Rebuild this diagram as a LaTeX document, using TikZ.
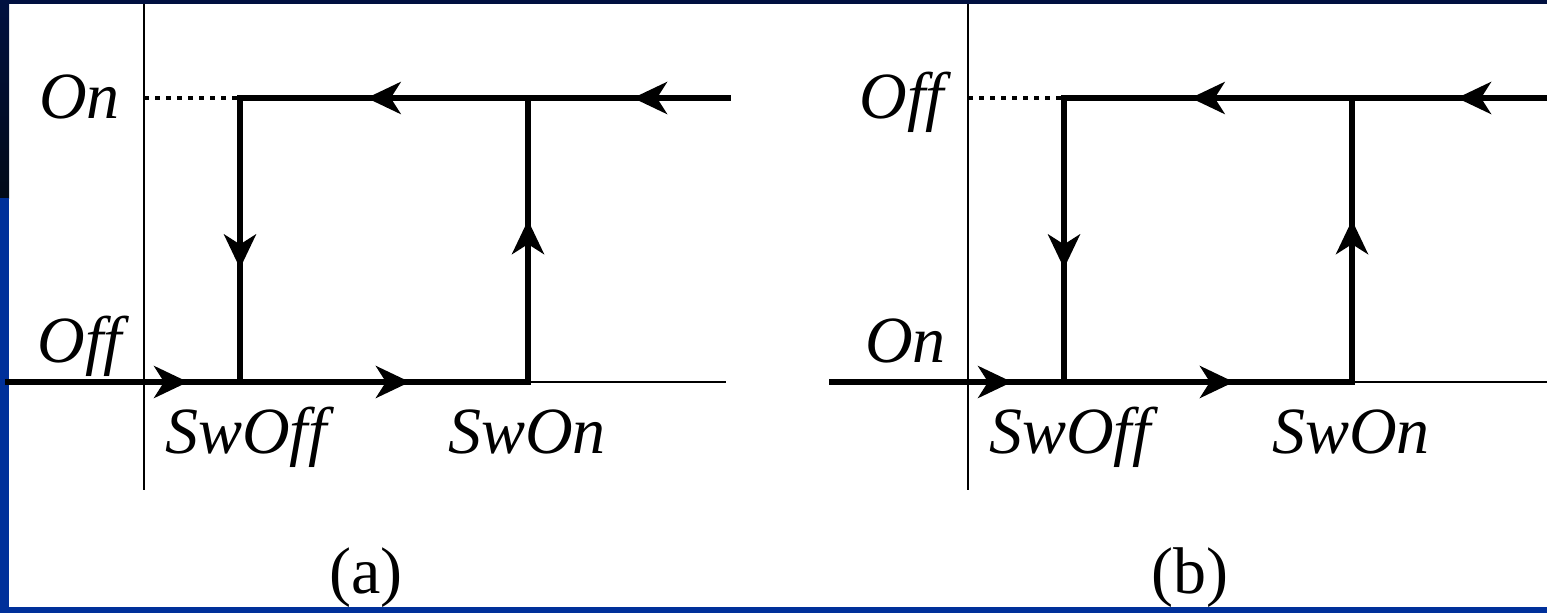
\documentclass[tikz,border=0pt]{standalone}
\usepackage{fontspec}
\setmainfont{Liberation Serif}
\newfontfamily\tiempos{Liberation Serif}
\usetikzlibrary{
    arrows.meta,
    decorations.markings
}
\definecolor{azulosc}{HTML}{001040}
\definecolor{negroazul}{HTML}{020A18}
\definecolor{azul}{HTML}{00309A}
\tikzset{
    >={Stealth[length=34pt,width=32pt,inset=10pt]},
    grueso/.style={
        line width=5.5pt,
        line cap=rect
    },
    eje/.style={line width=2.6pt},
    punteado/.style={
        line width=4pt,
        dash pattern=on 5pt off 6pt
    },
    flecha/.style={
        grueso,
        postaction={decorate},
        decoration={markings, mark=at position #1 with {\arrow{>}}}
    },
    etiq/.style={
        font=\tiempos\fontsize{66}{78}\selectfont\itshape,
        inner sep=0pt
    },
    pie/.style={
        font=\tiempos\fontsize{66}{78}\selectfont,
        inner sep=0pt
    }
}

\begin{document}
\begin{tikzpicture}[
    x=1pt,
    y=-1pt
]

    % Marco
    \useasboundingbox (0,0) rectangle (1547,613);
    \fill[azulosc] (0,0) rectangle (1547,4);
    \shade[top color=azulosc, bottom color=negroazul] (0,0) rectangle (9,198);
    \fill[azul] (0,198) rectangle (9,613);
    \fill[azul] (0,607) rectangle (1547,613);

    % Paneles (a) y (b)
    \foreach \p/\dx/\arriba/\abajo in {a/0/On/Off, b/824/Off/On}{
        \begin{scope}[xshift=\dx]

            % Puntos
            \coordinate (\p Ej0) at (144,4);
            \coordinate (\p Ej1) at (144,490);
            \coordinate (\p Y)   at (144,98);
            \coordinate (\p T1)  at (240,98);
            \coordinate (\p T2)  at (528,98);
            \coordinate (\p TE)  at (728,98);
            \coordinate (\p In)  at (8,382);
            \coordinate (\p O)   at (144,382);
            \coordinate (\p B1)  at (240,382);
            \coordinate (\p B2)  at (528,382);
            \coordinate (\p BE)  at (726,382);

            % Ejes
            \draw[eje] (\p Ej0) -- (\p Ej1);
            \draw[eje] (\p O) -- (\p BE);
            \draw[punteado] (\p Y) -- (\p T1);

            % Ciclo
            \draw[flecha=0.475] (\p TE) -- (\p T2);
            \draw[flecha=0.56]  (\p T2) -- (\p T1);
            \draw[flecha=0.60]  (\p T1) -- (\p B1);
            \draw[flecha=0.57]  (\p B2) -- (\p T2);
            \draw[flecha=0.776] (\p In) -- (\p B1);
            \draw[flecha=0.59]  (\p B1) -- (\p B2);

            % Etiquetas
            \node[etiq, anchor=base east] (\p Sup)   at (120,118) {\arriba};
            \node[etiq, anchor=base east] (\p Inf)   at (122,362) {\abajo};
            \node[etiq, anchor=base west] (\p SwOff) at (165,453) {SwOff};
            \node[etiq, anchor=base west] (\p SwOn)  at (448,453) {SwOn};
            \node[pie, anchor=base]       (\p Pie)   at (366,593) {(\p)};

        \end{scope}
    }

\end{tikzpicture}
\end{document}
